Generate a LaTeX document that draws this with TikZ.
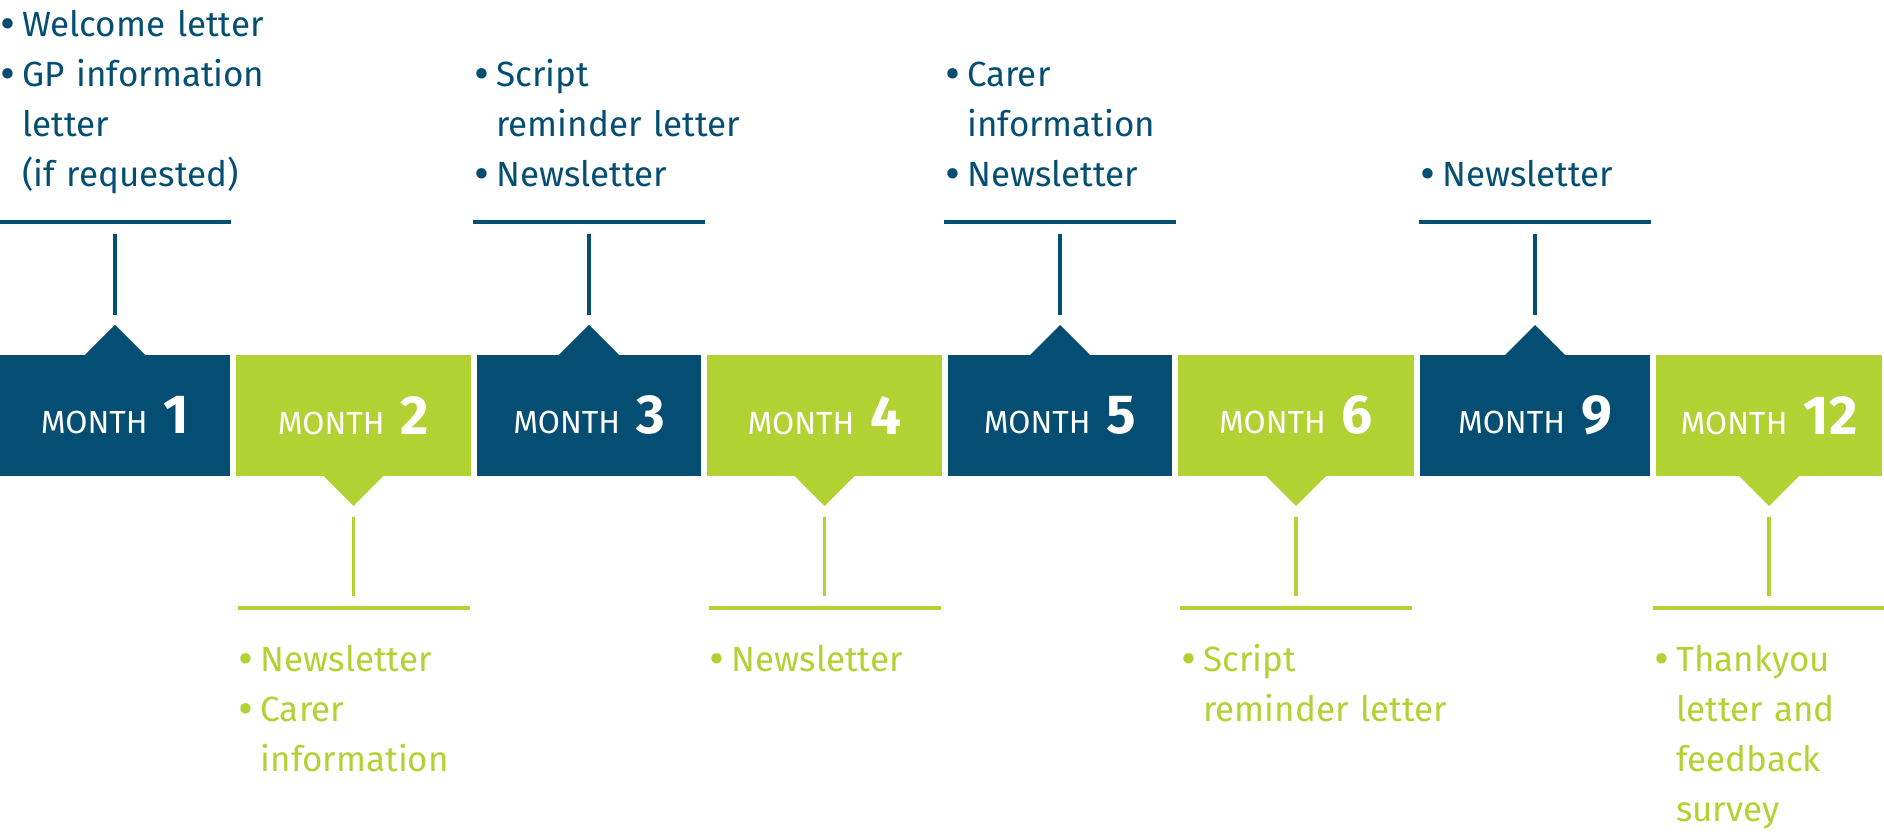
\documentclass[tikz,border=0pt]{standalone}
\usepackage{fontspec}
\setmainfont{Fira Sans}
\usepackage{xcolor}
\definecolor{mBlue}{RGB}{3,78,114}
\definecolor{mGreen}{RGB}{178,210,52}
\usepackage{tikz}
\usetikzlibrary{
  positioning,
  calc
}
\newcommand{\bulitem}{\makebox[19pt][l]{\hspace*{-3pt}\raisebox{-3pt}{\fontsize{46}{46}\selectfont\textbullet}}}
\newcommand{\contitem}{\makebox[19pt]{}}
\newcommand{\monthlabel}[1]{MONTH\hspace{16pt}{\fontsize{55}{55}\selectfont\bfseries #1}}
\tikzset{
  monthbox/.style={
    fill=mBlue,
    minimum height=121pt,
    inner sep=0pt,
    outer sep=0pt,
    text=white,
    font=\fontsize{32}{32}\selectfont
  },
  monthboxlight/.style={
    monthbox,
    fill=mGreen
  },
  tickline/.style={
    line width=3.5pt,
    mBlue
  },
  ticklinelight/.style={
    line width=3.5pt,
    mGreen
  },
  itemtext/.style={
    text=mBlue,
    font=\fontsize{35}{50}\selectfont,
    text width=300pt,
    align=left,
    inner sep=0pt,
    anchor=base west
  },
  itemtextlight/.style={
    itemtext,
    text=mGreen
  }
}

\begin{document}
\begin{tikzpicture}[x=1pt, y=1pt, node distance=6pt]
  \useasboundingbox (0,0) rectangle (1884,834);
  % month boxes
  \node[monthbox, minimum width=230pt, anchor=south west] (m1) at (0,358) {\monthlabel{1}};
  \node[monthboxlight, minimum width=235pt, right=of m1] (m2) {\monthlabel{2}};
  \node[monthbox, minimum width=224pt, right=of m2] (m3) {\monthlabel{3}};
  \node[monthboxlight, minimum width=235pt, right=of m3] (m4) {\monthlabel{4}};
  \node[monthbox, minimum width=224pt, right=of m4] (m5) {\monthlabel{5}};
  \node[monthboxlight, minimum width=236pt, right=of m5] (m6) {\monthlabel{6}};
  \node[monthbox, minimum width=230pt, right=of m6] (m9) {\monthlabel{9}};
  \node[monthboxlight, minimum width=226pt, right=of m9] (m12) {\monthlabel{12}};
  % pointers up
  \foreach \m in {m1,m3,m5,m9}{
    \fill[mBlue] ([xshift=-30pt]\m.north) -- ([yshift=30pt]\m.north) -- ([xshift=30pt]\m.north) -- cycle;
    \coordinate (\m-rule) at ([yshift=133pt]\m.north);
    \draw[tickline] ([yshift=40pt]\m.north) -- ([yshift=-12pt]\m-rule);
    \draw[tickline] ([xshift=-116pt]\m-rule) -- ([xshift=116pt]\m-rule);
  }
  % pointers down
  \foreach \m in {m2,m4,m6,m12}{
    \fill[mGreen] ([xshift=-30pt]\m.south) -- ([yshift=-30pt]\m.south) -- ([xshift=30pt]\m.south) -- cycle;
    \coordinate (\m-rule) at ([yshift=-132pt]\m.south);
    \draw[ticklinelight] ([yshift=-41pt]\m.south) -- ([yshift=12pt]\m-rule);
    \draw[ticklinelight] ([xshift=-116pt]\m-rule) -- ([xshift=116pt]\m-rule);
  }
  % items
  \node[itemtext] (t1) at ([xshift=-112pt, yshift=185pt]m1-rule)
    {\bulitem Welcome letter\\ \bulitem GP information\\ \contitem letter\\ \contitem (if requested)};
  \node[itemtext] (t3) at ([xshift=-112pt, yshift=135pt]m3-rule)
    {\bulitem Script\\ \contitem reminder letter\\ \bulitem Newsletter};
  \node[itemtext] (t5) at ([xshift=-112pt, yshift=135pt]m5-rule)
    {\bulitem Carer\\ \contitem information\\ \bulitem Newsletter};
  \node[itemtext] (t9) at ([xshift=-112pt, yshift=35pt]m9-rule)
    {\bulitem Newsletter};
  \node[itemtextlight] (t2) at ([xshift=-112pt, yshift=-64pt]m2-rule)
    {\bulitem Newsletter\\ \bulitem Carer\\ \contitem information};
  \node[itemtextlight] (t4) at ([xshift=-112pt, yshift=-64pt]m4-rule)
    {\bulitem Newsletter};
  \node[itemtextlight] (t6) at ([xshift=-112pt, yshift=-64pt]m6-rule)
    {\bulitem Script\\ \contitem reminder letter};
  \node[itemtextlight] (t12) at ([xshift=-112pt, yshift=-64pt]m12-rule)
    {\bulitem Thankyou\\ \contitem letter and\\ \contitem feedback\\ \contitem survey};
\end{tikzpicture}
\end{document}
